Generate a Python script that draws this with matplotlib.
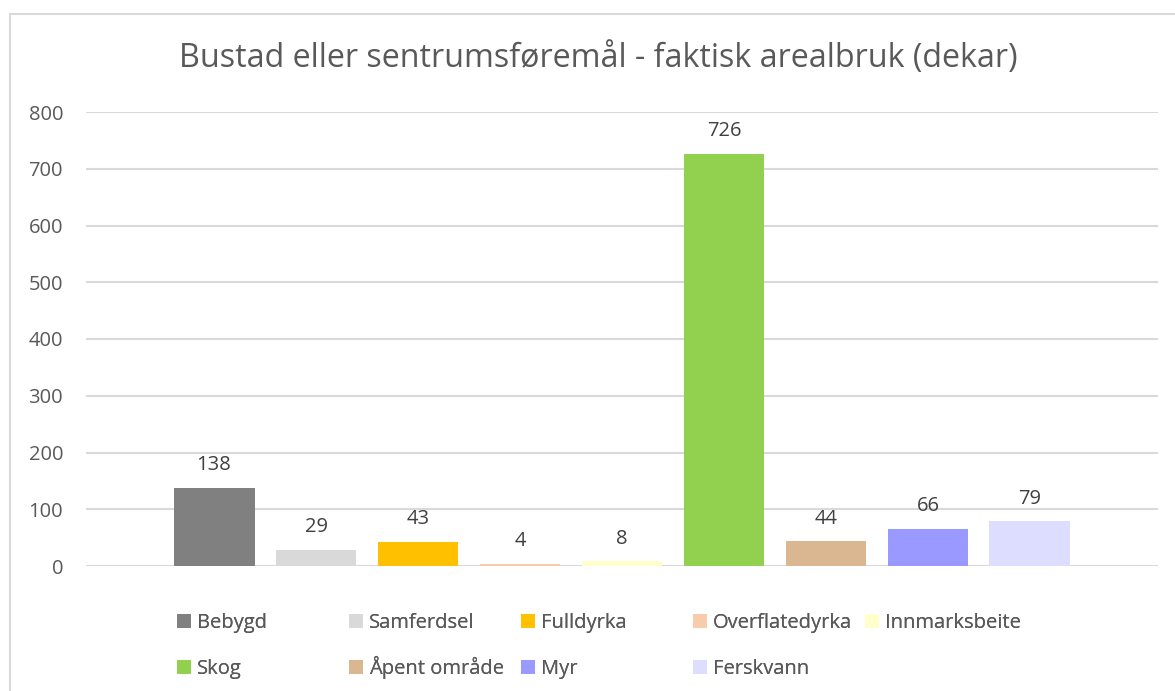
import matplotlib.pyplot as plt
from matplotlib.patches import Rectangle, Patch

plt.rcParams['font.family'] = ['Open Sans', 'DejaVu Sans']

categories = ["Bebygd", "Samferdsel", "Fulldyrka", "Overflatedyrka", "Innmarksbeite",
              "Skog", "Åpent område", "Myr", "Ferskvann"]
values = [138, 29, 43, 4, 8, 726, 44, 66, 79]
colors = ["#808080", "#D9D9D9", "#FFC000", "#F8CBAD", "#FFFFCC",
          "#92D050", "#DBB791", "#9999FF", "#DDDDFF"]
yticks = [0, 100, 200, 300, 400, 500, 600, 700, 800]
title = "Bustad eller sentrumsføremål - faktisk arealbruk (dekar)"

W, H = 1175, 691
fig = plt.figure(figsize=(W / 100, H / 100), dpi=100)
ax = fig.add_axes([86 / W, 1 - 566 / H, (1158 - 86) / W, (566 - 112) / H])

grid_c = "#D9D9D9"
text_c = "#595959"

bars = ax.bar(range(len(values)), values, width=0.794, color=colors, zorder=3)
ax.bar_label(bars, labels=[str(v) for v in values], padding=9, fontsize=14.5, color="#404040")

ax.set_xlim(-1.255, len(values) - 1 + 1.255)
ax.set_ylim(0, 800)
ax.set_yticks(yticks)
ax.set_xticks([])
ax.tick_params(axis='y', length=0, pad=16.5, labelsize=14.5, labelcolor=text_c)
for y in yticks:
    ax.axhline(y, color=grid_c, lw=1.5, zorder=1)
for s in ax.spines.values():
    s.set_visible(False)

fig.text(598.5 / W, 1 - 58 / H, title, ha='center', va='center', fontsize=23.2, color=text_c)

# chart border
fig.patches.append(Rectangle((10 / W, -0.1), 1.2, 1 - 14 / H + 0.1, transform=fig.transFigure,
                             fill=False, edgecolor=grid_c, lw=1.5))

# legend: five evenly spaced columns, two rows, one entry per legend box
ncol = 5
for i, name in enumerate(categories):
    col, row = i % ncol, i // ncol
    leg = fig.legend([Patch(facecolor=colors[i], edgecolor='none')], [name], loc='lower left',
                     bbox_to_anchor=((177 + 172 * col) / W, 1 - (633 + 46 * row) / H),
                     frameon=False, fontsize=14.5, handlelength=0.7, handleheight=0.7,
                     handletextpad=0.3, borderpad=0, borderaxespad=0, labelcolor=text_c)
    fig.add_artist(leg)

fig.savefig("out.png", dpi=100)
